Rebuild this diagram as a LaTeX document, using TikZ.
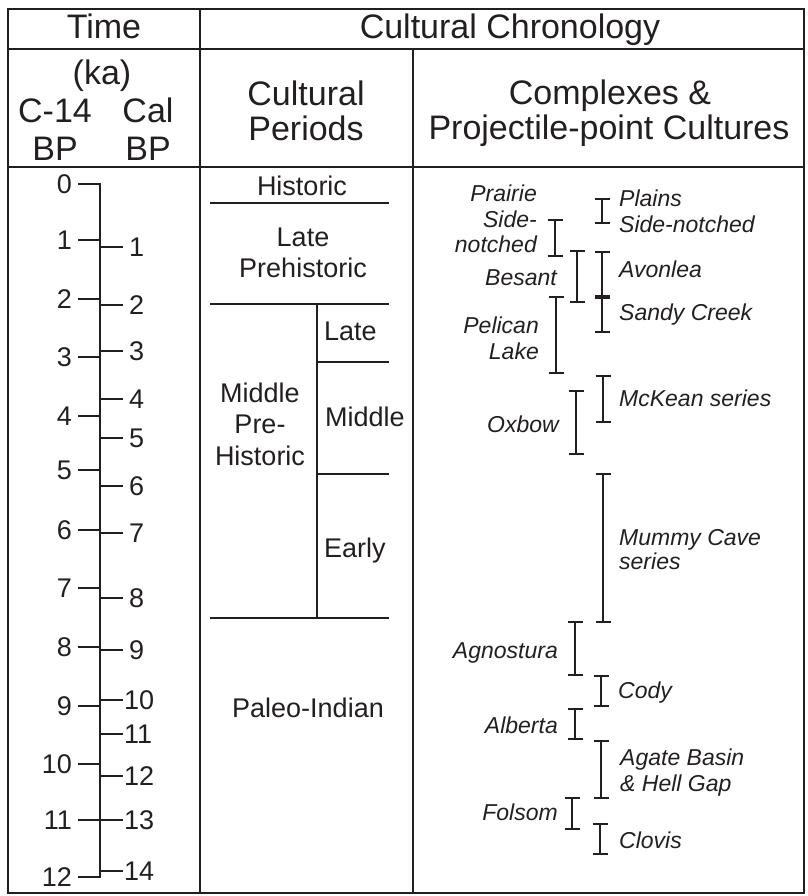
\documentclass[tikz,border=0pt]{standalone}
\usepackage{fontspec}
\setmainfont{Liberation Sans}
\definecolor{ink}{HTML}{231F20}
\begin{document}
\begin{tikzpicture}[x=1pt,y=-1pt,
  frame/.style={draw=ink, line width=2pt},
  rule/.style={draw=ink, line width=2.3pt},
  bar/.style={draw=ink, line width=2.4pt},
  hdr/.style={font=\fontsize{34}{36}\selectfont, text=ink, inner sep=0pt, anchor=base},
  per/.style={font=\fontsize{27}{30}\selectfont, text=ink, inner sep=0pt, anchor=base},
  num/.style={font=\fontsize{27}{30}\selectfont, text=ink, inner sep=0pt},
  cpx/.style={font=\fontsize{23}{26}\selectfont\itshape, text=ink, inner sep=0pt}]
\useasboundingbox (0,0) rectangle (807,896);
\newcommand\ibar[3]{\draw[bar] (#1-7.5,#2) -- (#1+7.5,#2) (#1,#2) -- (#1,#3) (#1-7.5,#3) -- (#1+7.5,#3);}
% frame
\draw[frame] (8,9) rectangle (804,893);
\draw[frame] (8,49) -- (804,49);
\draw[frame] (200,9) -- (200,893);
\draw[frame] (8,167) -- (804,167);
\draw[frame] (413,49) -- (413,893);
% headers
\node[hdr] (time) at (104,39) {Time};
\node[hdr] (cc) at (510,39) {Cultural Chronology};
\node[hdr] (ka) at (102,85) {(ka)};
\node[hdr] (c14) at (55,123) {C-14};
\node[hdr] (cal) at (148,123) {Cal};
\node[hdr] (bp1) at (55,161) {BP};
\node[hdr] (bp2) at (148,161) {BP};
\node[hdr] (cult) at (306,106) {Cultural};
\node[hdr] (peri) at (306,141) {Periods};
\node[hdr] (cplx) at (610,105) {Complexes \&};
\node[hdr] (proj) at (609,140) {Projectile-point Cultures};
% time axis
\draw[rule] (78,184) -- (100,184) -- (100,877) -- (78,877);
\foreach \v/\y in {0/184,1/240,2/299,3/357,4/416,5/470,6/530,7/588,8/647,9/706,10/764,11/820,12/877}{
  \draw[rule] (78,\y) -- (100,\y);
  \node[num, anchor=east] (c\v) at (72,\y) {\v};
}
\foreach \v/\y in {1/247,2/305,3/351,4/399,5/438,6/486,7/533,8/598,9/650}{
  \draw[rule] (100,\y) -- (123,\y);
  \node[num, anchor=west] (k\v) at (129,\y) {\v};
}
\foreach \v/\y in {10/700,11/734,12/776,13/820,14/871}{
  \draw[rule] (100,\y) -- (123,\y);
  \node[num, anchor=west] (k\v) at (124,\y) {\v};
}
% cultural periods
\node[per] (hist) at (302,196) {Historic};
\draw[rule] (210,203) -- (389,203);
\node[per] (lp1) at (303,246) {Late};
\node[per] (lp2) at (303,277) {Prehistoric};
\draw[rule] (210,304) -- (389,304);
\draw[rule] (317,304) -- (317,618);
\draw[rule] (317,362) -- (389,362);
\draw[rule] (317,474) -- (389,474);
\draw[rule] (210,618) -- (389,618);
\node[per, anchor=base west] (slate) at (324,340) {Late};
\node[per, anchor=base west] (smid) at (325,426) {Middle};
\node[per, anchor=base west] (searly) at (324,557) {Early};
\node[per] (mp1) at (260,402) {Middle};
\node[per] (mp2) at (260,433) {Pre-};
\node[per] (mp3) at (260,465) {Historic};
\node[per] (paleo) at (308,717) {Paleo-Indian};
% complexes bars
\ibar{555}{220}{256}
\ibar{602}{199}{223}
\ibar{577}{251}{302}
\ibar{602}{252}{296}
\ibar{602}{298}{332}
\ibar{556}{297}{373}
\ibar{603}{376}{422}
\ibar{576}{391}{454}
\ibar{603}{474}{622}
\ibar{575}{622}{675}
\ibar{601}{676}{706}
\ibar{575}{709}{739}
\ibar{601}{741}{798}
\ibar{572}{798}{829}
\ibar{600}{824}{854}
% complexes labels, left side
\node[cpx, anchor=base east] (pr1) at (537,201) {Prairie};
\node[cpx, anchor=base east] (pr2) at (537,227) {Side-};
\node[cpx, anchor=base east] (pr3) at (537,252) {notched};
\node[cpx, anchor=base east] (bes) at (557,285) {Besant};
\node[cpx, anchor=base east] (pel1) at (539,333) {Pelican};
\node[cpx, anchor=base east] (pel2) at (539,359) {Lake};
\node[cpx, anchor=base east] (oxb) at (559,432) {Oxbow};
\node[cpx, anchor=base east] (agn) at (558,658) {Agnostura};
\node[cpx, anchor=base east] (alb) at (558,733) {Alberta};
\node[cpx, anchor=base east] (fol) at (558,820) {Folsom};
% complexes labels, right side
\node[cpx, anchor=base west] (pl1) at (619,206) {Plains};
\node[cpx, anchor=base west] (pl2) at (619,232) {Side-notched};
\node[cpx, anchor=base west] (avo) at (619,277) {Avonlea};
\node[cpx, anchor=base west] (san) at (619,320) {Sandy Creek};
\node[cpx, anchor=base west] (mck) at (619,406) {McKean series};
\node[cpx, anchor=base west] (mum1) at (619,545) {Mummy Cave};
\node[cpx, anchor=base west] (mum2) at (619,569) {series};
\node[cpx, anchor=base west] (cod) at (618,698) {Cody};
\node[cpx, anchor=base west] (aga1) at (620,765) {Agate Basin};
\node[cpx, anchor=base west] (aga2) at (620,791) {\& Hell Gap};
\node[cpx, anchor=base west] (clo) at (619,848) {Clovis};
\end{tikzpicture}
\end{document}
